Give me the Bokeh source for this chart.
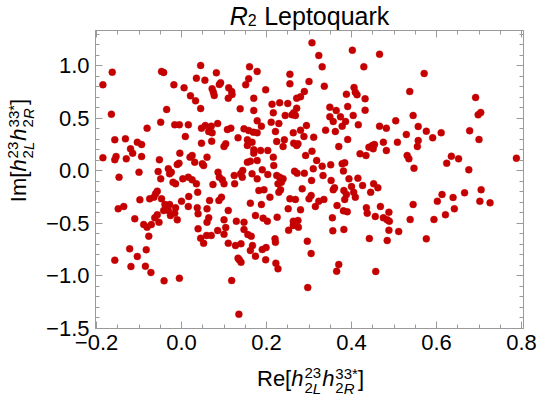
import math
from bokeh.plotting import figure
from bokeh.layouts import column, row
from bokeh.models import Range1d, LinearAxis, FixedTicker, CustomJSTickFormatter, Label
from bokeh.embed import file_html
from bokeh.resources import INLINE

# ---- data: Re[...] and Im[...] of each point ----
re_part = [
    -0.163, -0.185, -0.165, -0.047, -0.042, 0.045, 0.082, 0.035, 0.055, -0.018,
    0.006, 0.089, 0.092, 0.072, 0.075, 0.077, 0.111, 0.118, 0.119, 0.110,
    0.151, 0.021, 0.033, 0.045, -0.035, 0.138, -0.081, -0.049, -0.016, -0.005,
    0.016, 0.047, 0.056, 0.070, 0.085, 0.064, 0.072, 0.108, 0.116, 0.147,
    0.009, 0.133, -0.157, -0.132, -0.104, -0.094, -0.120, -0.115, -0.154, -0.157,
    -0.130, -0.185, -0.094, -0.147, -0.100, -0.052, -0.055, -0.031, -0.028, -0.024,
    -0.049, -0.020, -0.014, -0.004, -0.010, -0.006, 0.020, 0.025, 0.031, 0.047,
    0.071, 0.060, 0.100, 0.104, 0.049, 0.052, 0.003, 0.016, 0.025, 0.035,
    0.038, 0.074, 0.086, 0.089, 0.096, 0.100, 0.124, 0.125, 0.139, 0.144,
    0.143, -0.061, -0.057, -0.098, -0.075, -0.065, -0.047, -0.039, -0.035, -0.028,
    -0.042, -0.031, -0.014, -0.016, -0.026, 0.000, 0.017, 0.016, 0.037, 0.066,
    0.060, 0.039, 0.064, 0.060, 0.088, 0.094, 0.110, 0.100, -0.149, -0.136,
    -0.110, -0.057, -0.063, -0.053, -0.071, -0.089, -0.081, -0.010, 0.039, 0.129,
    0.147, -0.077, -0.122, -0.083, -0.104, -0.157, -0.119, -0.085, -0.072, -0.041,
    -0.005, 0.045, 0.052, 0.059, 0.070, 0.085, 0.104, 0.100, 0.110, 0.127,
    0.140, 0.133, 0.136, 0.140, 0.118, 0.135, 0.147, 0.156, 0.164, 0.167,
    0.162, 0.174, 0.190, 0.199, 0.198, 0.220, 0.221, 0.222, 0.227, 0.252,
    0.263, 0.275, 0.296, 0.305, 0.297, 0.356, 0.382, 0.370, 0.365, 0.442,
    0.457, 0.484, 0.488, 0.511, 0.576, 0.307, 0.323, 0.402, 0.466, 0.160,
    0.178, 0.331, 0.429, 0.158, 0.255, 0.255, 0.198, 0.300, 0.336, 0.170,
    0.406, 0.409, 0.413, 0.388, 0.432, 0.289, 0.271, 0.280, 0.170, 0.213,
    0.231, 0.250, 0.216, 0.271, 0.264, 0.268, 0.260, 0.244, 0.178, 0.188,
    0.211, 0.229, 0.221, 0.158, 0.169, 0.178, 0.263, 0.280, 0.294, 0.339,
    0.349, 0.364, 0.374, 0.349, 0.357, 0.378, 0.386, 0.391, 0.404, 0.432,
    0.416, 0.362, 0.466, 0.482, 0.571, 0.537, 0.692, 0.698, 0.704, 0.545,
    0.504, 0.557, 0.576, 0.611, 0.529, 0.678, 0.155, 0.166, 0.155, 0.288,
    0.311, 0.224, 0.242, 0.239, 0.264, 0.271, 0.274, 0.170, 0.186, 0.203,
    0.170, 0.216, 0.217, 0.155, 0.162, 0.178, 0.166, 0.178, 0.190, 0.203,
    0.224, 0.231, 0.239, 0.235, 0.227, 0.266, 0.272, 0.289, 0.292, 0.307,
    0.318, 0.310, 0.331, 0.333, 0.306, 0.351, 0.370, 0.391, 0.378, 0.384,
    0.381, 0.352, 0.357, 0.360, 0.382, 0.388, 0.384, 0.394, 0.415, 0.400,
    0.405, 0.409, 0.426, 0.445, 0.452, 0.462, 0.420, 0.434, 0.441, 0.449,
    0.454, 0.451, 0.475, 0.482, 0.182, 0.194, 0.229, 0.233, 0.284, 0.208,
    0.255, 0.268, 0.300, 0.305, 0.323, 0.335, 0.315, 0.162, 0.188, 0.251,
    0.280, 0.366, 0.174, 0.192, 0.202, 0.225, 0.263, 0.274, 0.355, 0.381,
    0.390, 0.435, 0.437, 0.456, 0.468, 0.475, 0.484, 0.488, 0.591, 0.557,
    0.555, 0.508, 0.700, 0.531, 0.535, 0.547, 0.635, 0.652, 0.624, 0.676,
    0.788, 0.666, 0.705, 0.613, 0.639, 0.602, 0.702, 0.726, 0.642, 0.545,
    0.621, 0.538, 0.594, 0.489,
]
im_part = [
    0.941, 0.821, 0.541, 0.948, 0.938, 1.005, 0.935, 0.884, 0.865, 0.821,
    0.792, 0.824, 0.840, 0.783, 0.750, 0.719, 0.792, 0.757, 0.729, 0.693,
    0.821, 0.716, 0.668, 0.595, 0.586, 0.592, 0.408, 0.465, 0.440, 0.440,
    0.440, 0.408, 0.433, 0.427, 0.452, 0.376, 0.364, 0.395, 0.408, 0.402,
    0.329, 0.316, 0.297, 0.306, 0.274, 0.252, 0.211, 0.170, 0.138, 0.107,
    0.116, 0.126, 0.138, -0.059, -0.011, 0.107, -0.005, 0.021, -0.027, -0.011,
    -0.075, -0.107, -0.122, 0.170, 0.062, 0.074, 0.132, 0.148, 0.084, 0.265,
    0.284, 0.132, 0.233, 0.259, 0.069, 0.052, -0.075, -0.059, -0.084, -0.122,
    -0.202, -0.129, -0.011, -0.059, -0.084, -0.122, -0.043, -0.122, -0.027, 0.005,
    -0.059, -0.217, -0.192, -0.274, -0.265, -0.249, -0.265, -0.319, -0.338, -0.319,
    -0.376, -0.376, -0.350, -0.402, -0.424, -0.288, -0.243, -0.338, -0.350, -0.281,
    -0.360, -0.408, -0.446, -0.488, -0.281, -0.249, -0.376, -0.465, -0.360, -0.338,
    -0.455, -0.417, -0.446, -0.488, -0.510, -0.510, -0.535, -0.465, -0.550, -0.478,
    -0.488, -0.621, -0.741, -0.750, -0.814, -0.849, -0.910, -0.907, -0.967, -1.046,
    -1.021, -0.640, -0.688, -0.614, -0.614, -0.567, -0.538, -0.602, -0.688, -0.710,
    -0.693, -0.830, -0.846, -0.869, -1.043, -1.364, -0.557, -0.605, -0.621, -0.710,
    -0.757, -0.811, -0.748, -0.729, -0.846, -0.646, -0.678, -0.878, -0.932, -0.564,
    -0.519, -0.535, -0.668, -0.786, -1.110, -0.570, -0.557, -0.890, -0.954, -0.643,
    -0.957, -0.662, -0.564, -0.576, -0.646, 1.221, 1.100, 1.150, 1.112, 0.992,
    0.948, 0.992, 0.992, 0.878, 0.922, 0.830, 0.773, 0.852, 0.808, 0.693,
    0.795, 0.750, 0.726, 0.731, 0.688, 0.757, 0.693, 0.706, 0.576, 0.636,
    0.650, 0.643, 0.554, 0.598, 0.554, 0.529, 0.535, 0.529, 0.478, 0.427,
    0.465, 0.452, 0.376, 0.386, 0.370, 0.364, 0.364, 0.389, 0.433, 0.389,
    0.608, 0.576, 0.516, 0.516, 0.471, 0.427, 0.471, 0.614, 0.529, 0.579,
    0.440, 0.376, 0.427, 0.408, 0.929, 0.757, 0.700, 0.535, 0.557, 0.529,
    0.478, 0.424, 0.379, 0.364, 0.348, 0.383, 0.297, 0.274, 0.243, 0.329,
    0.322, 0.281, 0.297, 0.233, 0.265, 0.243, 0.259, 0.202, 0.195, 0.195,
    0.170, 0.132, 0.052, 0.084, 0.093, 0.100, -0.027, -0.075, 0.011, -0.033,
    -0.043, -0.059, -0.075, -0.107, -0.122, -0.002, -0.021, -0.021, 0.148, 0.189,
    0.100, 0.021, 0.046, -0.043, -0.090, 0.059, 0.233, 0.300, 0.069, 0.078,
    0.000, -0.090, -0.179, -0.160, -0.186, -0.224, -0.271, -0.075, -0.068, -0.148,
    -0.202, -0.249, -0.138, -0.202, -0.122, -0.160, 0.164, 0.148, 0.227, 0.243,
    0.252, 0.211, 0.274, 0.195, -0.186, -0.179, -0.202, -0.179, -0.170, -0.249,
    -0.265, -0.271, -0.265, -0.233, -0.288, -0.271, -0.338, -0.306, -0.319, -0.360,
    -0.370, -0.329, -0.424, -0.449, -0.478, -0.440, -0.478, -0.471, -0.446, -0.379,
    -0.388, -0.350, -0.402, -0.433, -0.338, -0.446, -0.465, -0.392, 0.316, 0.290,
    0.233, 0.274, 0.300, 0.148, 0.116, 0.027, 0.141, 0.116, 0.074, 0.011,
    0.122, -0.208, -0.179, -0.224, -0.252, -0.288, -0.288, -0.303, -0.360, -0.319,
    -0.417, -0.462, -0.462, -0.478,
]

x_ticks = [-0.2, 0.0, 0.2, 0.4, 0.6, 0.8]
y_ticks = [-1.5, -1.0, -0.5, 0.0, 0.5, 1.0]
x_minor = [round(-0.2 + 0.05 * i, 2) for i in range(21)]
y_minor = [round(-1.5 + 0.1 * i, 1) for i in range(29)]

title_parts = ("R", "2", "Leptoquark")

# ---- layout constants (px) ----
W, H = 538, 409
TOP_H = 30          # title strip
YL_W = 40           # y-label strip
MAIN_H = 331        # main plot height (canvas y 30 .. 361)
BOT_H = H - TOP_H - MAIN_H
FONT = "Liberation Sans"
FRAME = "#9a9a9a"
RED = "#C40000"
BASE_K = 0.3        # empirical baseline correction (fraction of font size)

main = figure(width=W - YL_W, height=MAIN_H,
              x_range=Range1d(-0.2024, 0.8047), y_range=Range1d(-1.5, 1.338),
              output_backend="svg", toolbar_location=None,
              min_border_left=95 - YL_W, min_border_right=15,
              min_border_top=0, min_border_bottom=MAIN_H - 298)
main.grid.visible = False
main.background_fill_color = "white"
main.border_fill_color = "white"
main.outline_line_color = FRAME

minus_fmt = CustomJSTickFormatter(code="return tick.toFixed(1).replace('-', '\u2212');")


def style_axis(ax, ticker, fmt, standoff, size):
    ax.ticker = ticker
    if fmt is not None:
        ax.formatter = fmt
    ax.axis_line_color = FRAME
    ax.major_tick_line_color = FRAME
    ax.minor_tick_line_color = FRAME
    ax.major_tick_in = 7
    ax.major_tick_out = 0
    ax.minor_tick_in = 4
    ax.minor_tick_out = 0
    ax.major_label_text_font = FONT
    ax.major_label_text_font_size = size
    ax.major_label_text_color = "black"
    ax.major_label_standoff = standoff


style_axis(main.xaxis[0], FixedTicker(ticks=x_ticks, minor_ticks=x_minor), minus_fmt, 6, "22px")
style_axis(main.yaxis[0], FixedTicker(ticks=y_ticks, minor_ticks=y_minor), minus_fmt, 6, "22px")
top = LinearAxis()
style_axis(top, FixedTicker(ticks=x_ticks, minor_ticks=x_minor), None, 0, "0px")
top.major_label_overrides = {t: "" for t in x_ticks}
right = LinearAxis()
style_axis(right, FixedTicker(ticks=y_ticks, minor_ticks=y_minor), None, 0, "0px")
right.major_label_overrides = {t: "" for t in y_ticks}
main.add_layout(top, "above")
main.add_layout(right, "right")

main.scatter(re_part, im_part, size=7, fill_color=RED, line_color=RED, line_width=0.4)


def strip(w, h):
    f = figure(width=w, height=h, output_backend="svg", toolbar_location=None,
               x_axis_location=None, y_axis_location=None,
               x_range=Range1d(0, 1), y_range=Range1d(0, 1), min_border=0)
    f.grid.visible = False
    f.outline_line_color = None
    f.background_fill_color = "white"
    f.border_fill_color = "white"
    return f


title_fig = strip(W, TOP_H)
ylab_fig = strip(YL_W, MAIN_H)
xlab_fig = strip(W, BOT_H)

# ---- composite (sub/superscript) labels ----
CW = {'R': 0.722, 'e': 0.556, '[': 0.278, ']': 0.278, 'h': 0.556, '2': 0.556, '3': 0.556,
      'L': 0.556, '*': 0.389, 'I': 0.278, 'm': 0.833, ' ': 0.278, 'p': 0.556, 't': 0.278,
      'o': 0.556, 'q': 0.556, 'u': 0.556, 'a': 0.556, 'r': 0.333, 'k': 0.5}


def tw(s, size):
    return sum(CW[c] for c in s) * size


def put(fig, txt, size, style, d, base, shift, start, rot):
    fh = fig.height
    corr = BASE_K * size
    if not rot:
        cx, cy = start + d, base - shift - corr
        ang = 0
    else:
        cx, cy = base - shift - corr, start - d
        ang = math.pi / 2
    fig.add_layout(Label(x=cx, y=fh - cy, x_units="screen", y_units="screen",
                         text=txt, angle=ang, text_font=FONT, text_font_size=f"{size}px",
                         text_font_style=style, text_color="black",
                         text_align="left", text_baseline="alphabetic"))


def compose(fig, segs, base, rot, start=0, draw=True, RAISE=8, DROP=7):
    d = 0
    for seg in segs:
        kind = seg[0]
        if kind == "run":
            _, txt, size, style, shift = seg
            if draw:
                put(fig, txt, size, style, d, base, shift, start, rot)
            d += tw(txt, size)
        elif kind == "gap":
            d += seg[1]
        else:
            _, sup, sub = seg
            wmax = 0
            for parts, shift in ((sup, RAISE), (sub, -DROP)):
                q = d
                for txt, size, style in parts:
                    if draw:
                        put(fig, txt, size, style, q, base, shift, start, rot)
                    q += tw(txt, size)
                wmax = max(wmax, q - d)
            d += wmax
    return d


def centered(fig, segs, center, base, rot):
    total = compose(fig, segs, base, rot, draw=False)
    start = center - total / 2 if not rot else center + total / 2
    compose(fig, segs, base, rot, start=start, draw=True)


M, S = 22, 15
hh = [("run", "h", M, "italic", 0), ("gap", 1),
      ("stack", [("23", S, "normal")], [("2", S, "normal"), ("L", S, "italic")]),
      ("gap", 1), ("run", "h", M, "italic", 0), ("gap", 1),
      ("stack", [("33*", S, "normal")], [("2", S, "normal"), ("R", S, "italic")]),
      ("run", "]", M, "normal", 0)]

# x label: canvas baseline y=385 -> strip y = 385 - (TOP_H + MAIN_H)
centered(xlab_fig, [("run", "Re[", M, "normal", 0)] + hh, 310, 385 - TOP_H - MAIN_H, False)
# y label: canvas baseline x=25, centre canvas y=183 -> strip y = 183 - TOP_H
centered(ylab_fig, [("run", "Im[", M, "normal", 0)] + hh, 183 - TOP_H, 25, True)

TS = 25
title_segs = [("run", title_parts[0], TS, "italic", 0),
              ("run", title_parts[1], 16, "normal", -2),
              ("gap", 0.3 * TS),
              ("run", title_parts[2], TS, "normal", 0)]
centered(title_fig, title_segs, 309, 22.7, False)

layout = column(title_fig, row(ylab_fig, main), xlab_fig)
open("out.html", "w").write(file_html(layout, INLINE))
